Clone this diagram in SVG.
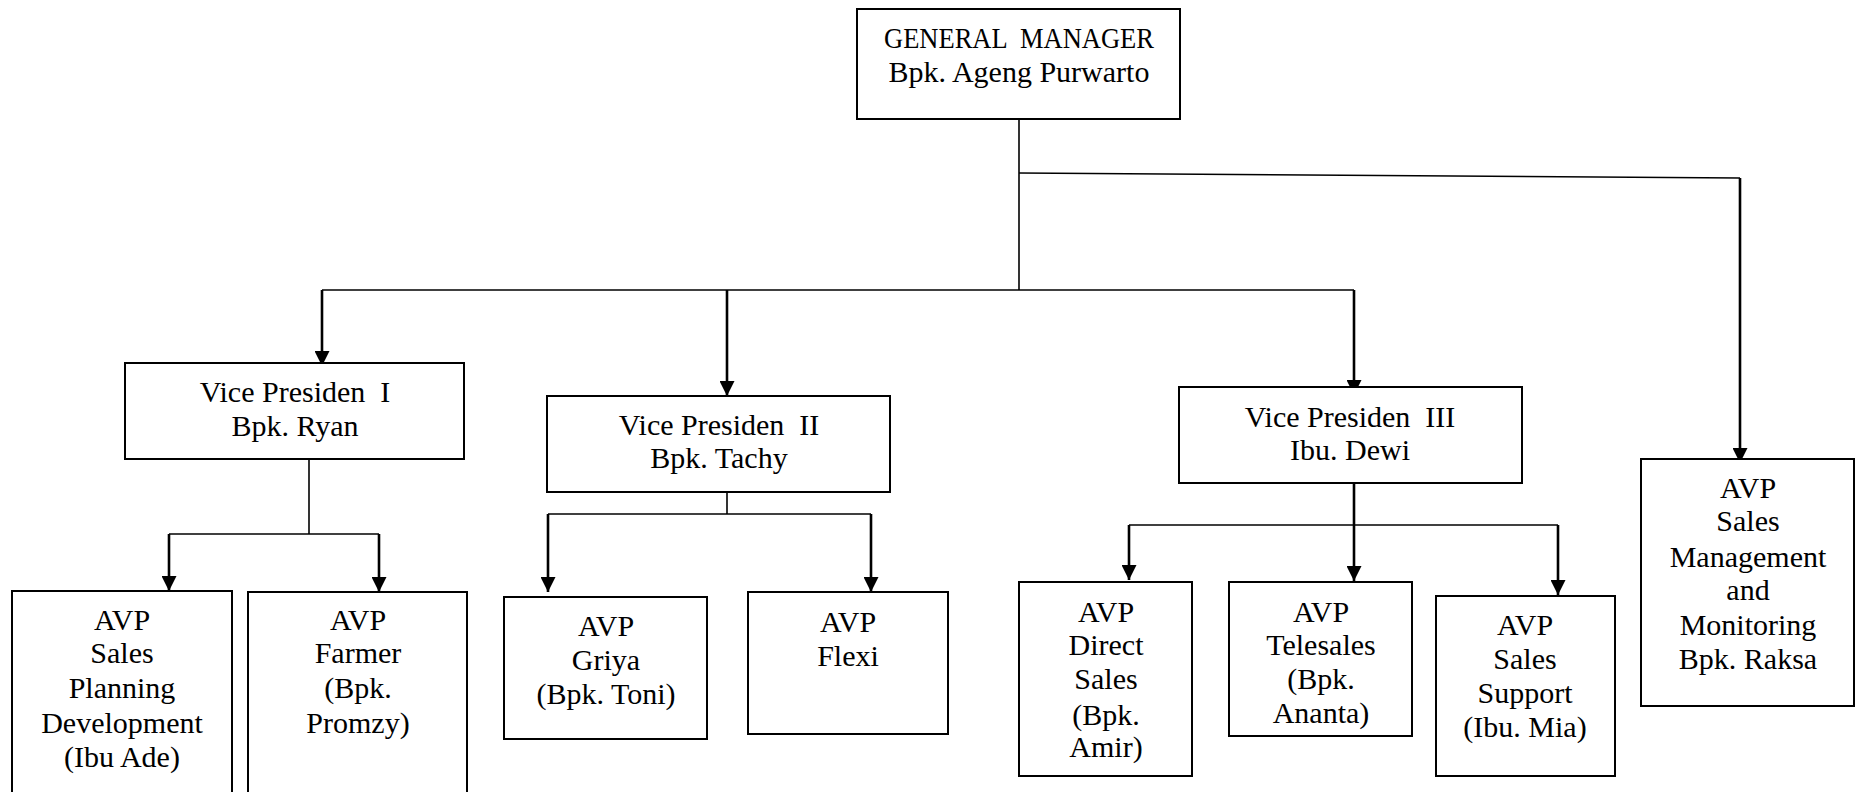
<svg xmlns="http://www.w3.org/2000/svg" width="1864" height="792" viewBox="0 0 1864 792">
<style>
.box{fill:#fff;stroke:#000;stroke-width:2}
.t{font-family:"Liberation Serif","Times New Roman",serif;font-size:30px;fill:#000;text-anchor:middle}
.ln{fill:none;stroke:#000;stroke-width:1.6}
.ar{fill:none;stroke:#000;stroke-width:2.6;marker-end:url(#ah)}
</style>
<defs>
<marker id="ah" viewBox="0 0 15 15" refX="15" refY="7.5" markerWidth="15" markerHeight="15" markerUnits="userSpaceOnUse" orient="auto">
<path d="M0,0 L15,7.5 L0,15 z" fill="#000"/>
</marker>
</defs>
<rect width="1864" height="792" fill="#fff"/>
<g id="connectors">
<path class="ln" d="M1019,119 V290"/>
<path class="ln" d="M1019,173 L1740,178"/>
<path class="ar" d="M1740,178 V463"/>
<path class="ln" d="M322,290 H1354"/>
<path class="ar" d="M322,290 V366"/>
<path class="ar" d="M727,290 V396"/>
<path class="ar" d="M1354,290 V395"/>
<path class="ln" d="M309,459 V534"/>
<path class="ln" d="M169,534 H379"/>
<path class="ar" d="M169,534 V591"/>
<path class="ar" d="M379,534 V592"/>
<path class="ln" d="M727,492 V514"/>
<path class="ln" d="M548,514 H871"/>
<path class="ar" d="M548,514 V592"/>
<path class="ar" d="M871,514 V592"/>
<path class="ar" d="M1354,483 V581"/>
<path class="ln" d="M1129,525 H1558"/>
<path class="ar" d="M1129,525 V580"/>
<path class="ar" d="M1558,525 V595"/>
</g>
<g id="gm">
<rect class="box" x="857" y="9" width="323" height="110"/>
<text class="t" x="1019" y="48" xml:space="preserve" textLength="270" lengthAdjust="spacingAndGlyphs">GENERAL  MANAGER</text>
<text class="t" x="1019" y="82">Bpk. Ageng Purwarto</text>
</g>
<g id="vp1">
<rect class="box" x="125" y="363" width="339" height="96"/>
<text class="t" x="295" y="402" xml:space="preserve">Vice Presiden  I</text>
<text class="t" x="295" y="436">Bpk. Ryan</text>
</g>
<g id="vp2">
<rect class="box" x="547" y="396" width="343" height="96"/>
<text class="t" x="719" y="435" xml:space="preserve">Vice Presiden  II</text>
<text class="t" x="719" y="468">Bpk. Tachy</text>
</g>
<g id="vp3">
<rect class="box" x="1179" y="387" width="343" height="96"/>
<text class="t" x="1350" y="427" xml:space="preserve">Vice Presiden  III</text>
<text class="t" x="1350" y="460">Ibu. Dewi</text>
</g>
<g id="avp-raksa">
<rect class="box" x="1641" y="459" width="213" height="247"/>
<text class="t" x="1748" y="498">AVP</text>
<text class="t" x="1748" y="531">Sales</text>
<text class="t" x="1748" y="567">Management</text>
<text class="t" x="1748" y="600">and</text>
<text class="t" x="1748" y="635">Monitoring</text>
<text class="t" x="1748" y="669">Bpk. Raksa</text>
</g>
<g id="avp-spd">
<rect class="box" x="12" y="591" width="220" height="220"/>
<text class="t" x="122" y="630">AVP</text>
<text class="t" x="122" y="663">Sales</text>
<text class="t" x="122" y="698">Planning</text>
<text class="t" x="122" y="733">Development</text>
<text class="t" x="122" y="767">(Ibu Ade)</text>
</g>
<g id="avp-farmer">
<rect class="box" x="248" y="592" width="219" height="220"/>
<text class="t" x="358" y="630">AVP</text>
<text class="t" x="358" y="663">Farmer</text>
<text class="t" x="358" y="698">(Bpk.</text>
<text class="t" x="358" y="733">Promzy)</text>
</g>
<g id="avp-griya">
<rect class="box" x="504" y="597" width="203" height="142"/>
<text class="t" x="606" y="636">AVP</text>
<text class="t" x="606" y="670">Griya</text>
<text class="t" x="606" y="704">(Bpk. Toni)</text>
</g>
<g id="avp-flexi">
<rect class="box" x="748" y="592" width="200" height="142"/>
<text class="t" x="848" y="632">AVP</text>
<text class="t" x="848" y="666">Flexi</text>
</g>
<g id="avp-direct">
<rect class="box" x="1019" y="582" width="173" height="194"/>
<text class="t" x="1106" y="622">AVP</text>
<text class="t" x="1106" y="655">Direct</text>
<text class="t" x="1106" y="689">Sales</text>
<text class="t" x="1106" y="725">(Bpk.</text>
<text class="t" x="1106" y="757">Amir)</text>
</g>
<g id="avp-telesales">
<rect class="box" x="1229" y="582" width="183" height="154"/>
<text class="t" x="1321" y="622">AVP</text>
<text class="t" x="1321" y="655">Telesales</text>
<text class="t" x="1321" y="689">(Bpk.</text>
<text class="t" x="1321" y="723">Ananta)</text>
</g>
<g id="avp-support">
<rect class="box" x="1436" y="596" width="179" height="180"/>
<text class="t" x="1525" y="635">AVP</text>
<text class="t" x="1525" y="669">Sales</text>
<text class="t" x="1525" y="703">Support</text>
<text class="t" x="1525" y="737">(Ibu. Mia)</text>
</g>
</svg>
